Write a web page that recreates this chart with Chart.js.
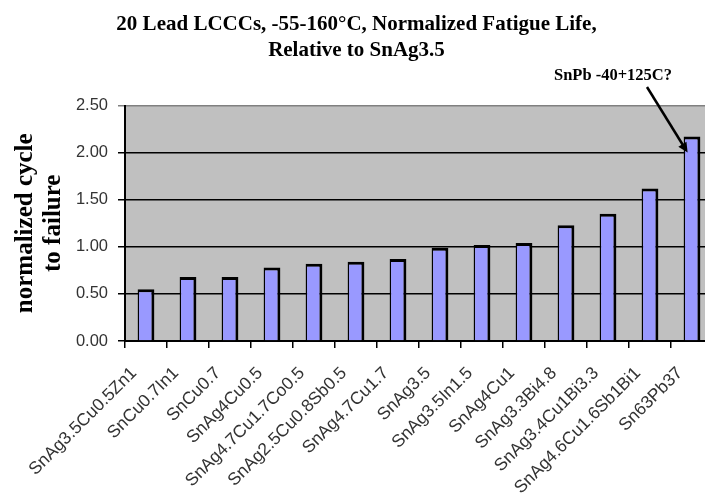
<!DOCTYPE html>
<html>
<head>
<meta charset="utf-8">
<script src="https://cdn.jsdelivr.net/npm/chart.js@4.4.1/dist/chart.umd.min.js"></script>
<style>
  html, body { margin: 0; padding: 0; background: #fff; overflow: hidden; }
  #wrap { position: absolute; left: 0; top: 0; width: 716px; height: 495px; }
</style>
</head>
<body>
<div id="wrap"><canvas id="fatigueChart" width="716" height="495"></canvas></div>
<script>
// solder alloys, fatigue life normalized to SnAg3.5
const alloys = ['SnAg3.5Cu0.5Zn1', 'SnCu0.7In1', 'SnCu0.7', 'SnAg4Cu0.5', 'SnAg4.7Cu1.7Co0.5',
  'SnAg2.5Cu0.8Sb0.5', 'SnAg4.7Cu1.7', 'SnAg3.5', 'SnAg3.5In1.5', 'SnAg4Cu1', 'SnAg3.3Bi4.8',
  'SnAg3.4Cu1Bi3.3', 'SnAg4.6Cu1.6Sb1Bi1', 'Sn63Pb37'];
const normalizedLife = [0.55, 0.68, 0.68, 0.78, 0.82, 0.84, 0.87, 0.99, 1.02, 1.04, 1.23, 1.35, 1.62, 2.17];
const yTicks = [0, 0.5, 1.0, 1.5, 2.0, 2.5];

const noteText = 'SnPb -40+125C?';
const noteIndex = 13;   // Sn63Pb37 bar
const noteValue = 2.0;  // arrow lands here

const serif = '"Liberation Serif", "Times New Roman", serif';
const sans = '"Liberation Sans", Arial, sans-serif';

// grey plot area like the old Excel charts
const plotBg = {
  id: 'plotBg',
  beforeDraw(chart) {
    const { ctx, chartArea: a } = chart;
    ctx.save();
    ctx.fillStyle = '#c0c0c0';
    ctx.fillRect(a.left, a.top, a.right - a.left, a.bottom - a.top);
    ctx.restore();
  }
};

// callout text + arrow pointing at the SnPb bar
const notePlugin = {
  id: 'note',
  afterDraw(chart) {
    const { ctx } = chart;
    const y = chart.scales.y;
    const bar = chart.getDatasetMeta(0).data[noteIndex];
    const tipX = bar.x - bar.width / 2 + 4;
    const tipY = y.getPixelForValue(noteValue);
    const fromX = 647, fromY = 87;
    const ang = Math.atan2(tipY - fromY, tipX - fromX);

    ctx.save();
    ctx.strokeStyle = '#000';
    ctx.fillStyle = '#000';
    ctx.lineWidth = 2.5;
    ctx.beginPath();
    ctx.moveTo(fromX, fromY);
    ctx.lineTo(tipX - 6 * Math.cos(ang), tipY - 6 * Math.sin(ang));
    ctx.stroke();

    ctx.beginPath();
    ctx.moveTo(tipX, tipY);
    ctx.lineTo(tipX - 11 * Math.cos(ang - 0.45), tipY - 11 * Math.sin(ang - 0.45));
    ctx.lineTo(tipX - 11 * Math.cos(ang + 0.45), tipY - 11 * Math.sin(ang + 0.45));
    ctx.closePath();
    ctx.fill();

    ctx.font = 'bold 16.5px ' + serif;
    ctx.textAlign = 'right';
    ctx.textBaseline = 'middle';
    ctx.fillText(noteText, 672, 76);
    ctx.restore();
  }
};

const ctx = document.getElementById('fatigueChart').getContext('2d');
const fatigueChart = new Chart(ctx, {
  type: 'bar',
  data: {
    labels: alloys,
    datasets: [{
      data: normalizedLife,
      backgroundColor: '#9999ff',
      borderColor: '#000',
      borderWidth: { top: 3, right: 3, left: 1.5, bottom: 0 },
      borderSkipped: false,
      categoryPercentage: 1,
      barPercentage: 0.4
    }]
  },
  options: {
    responsive: false,
    animation: false,
    layout: { padding: { left: 0, right: 3, top: 0, bottom: 0 } },
    plugins: {
      legend: { display: false },
      tooltip: { enabled: false },
      title: {
        display: true,
        text: ['20 Lead LCCCs, -55-160°C, Normalized Fatigue Life,', 'Relative to SnAg3.5'],
        color: '#000',
        font: { family: serif, size: 21, weight: 'bold', lineHeight: 1.25 },
        padding: { top: 11, bottom: 42 }
      }
    },
    scales: {
      x: {
        offset: true,
        grid: { display: true, drawOnChartArea: false, drawTicks: true, tickLength: 7, color: '#000', lineWidth: 1.5, offset: true },
        border: { display: true, color: '#000', width: 2 },
        ticks: {
          color: '#333',
          font: { family: sans, size: 17.5 },
          minRotation: 45,
          maxRotation: 45,
          autoSkip: false,
          labelOffset: -12,
          padding: 15
        },
        afterFit(s) {
          s.height = 154;
          // rotated labels shouldn't squeeze the plot sideways
          s.paddingLeft = 0;
          s.paddingRight = 0;
        }
      },
      y: {
        min: 0,
        max: 2.5,
        afterBuildTicks(s) { s.ticks = yTicks.map(v => ({ value: v })); },
        grid: {
          color: c => (c.tick && c.tick.value === 2.5 ? '#808080' : '#000'),
          lineWidth: 1.5,
          tickLength: 7
        },
        border: { display: true, color: '#000', width: 2 },
        ticks: {
          color: '#333',
          font: { family: sans, size: 16.5 },
          padding: 10,
          callback: v => Number(v).toFixed(2)
        },
        title: {
          display: true,
          text: ['normalized cycle', 'to failure'],
          color: '#000',
          font: { family: serif, size: 25, weight: 'bold', lineHeight: 1.1 },
          padding: { top: 12, bottom: 4 }
        },
        afterFit(s) { s.width = 125; }
      }
    }
  },
  plugins: [plotBg, notePlugin]
});
</script>
</body>
</html>
